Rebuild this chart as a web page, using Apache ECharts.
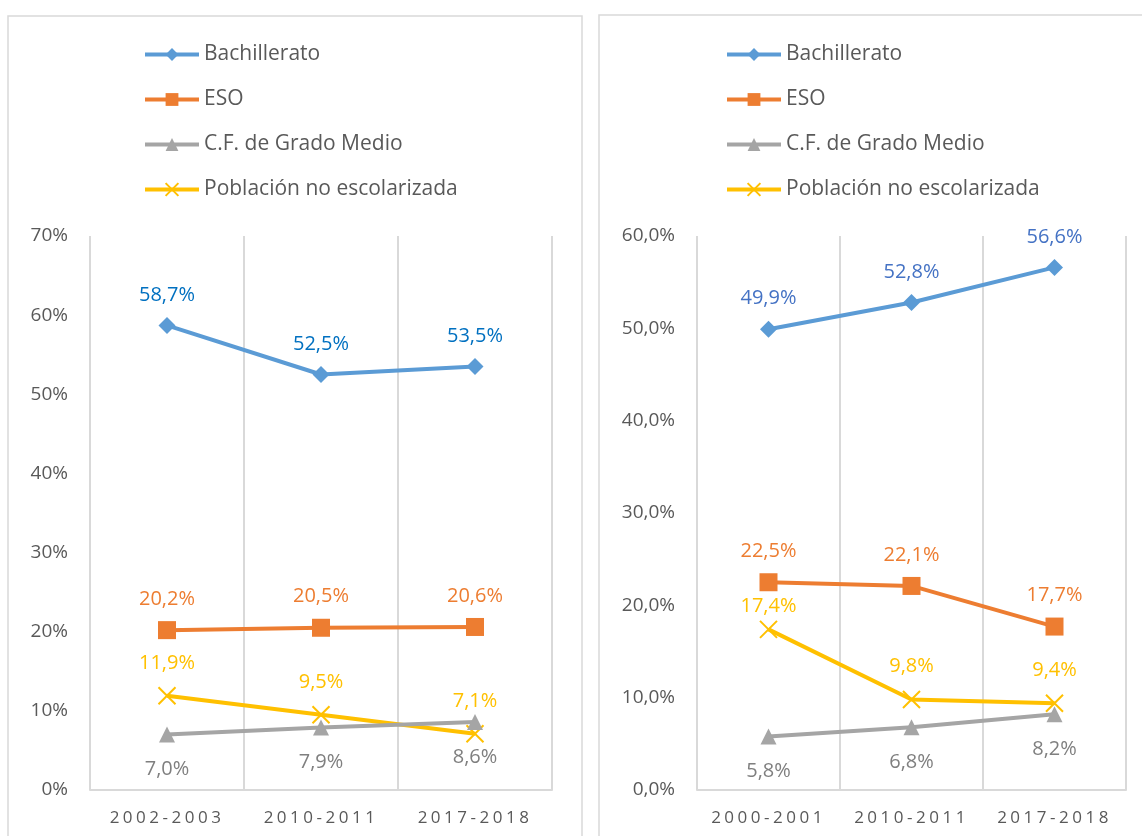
<!DOCTYPE html>
<html>
<head>
<meta charset="utf-8">
<script src="https://cdn.jsdelivr.net/npm/echarts@6/dist/echarts.min.js"></script>
<style>
html,body{margin:0;padding:0;background:#fff;}
#chart{width:1142px;height:836px;}
</style>
</head>
<body>
<div id="chart"></div>
<script>
// ---- Data ----
const seriesNames = ['Bachillerato', 'ESO', 'C.F. de Grado Medio', 'Población no escolarizada'];

const leftCategories = ['2002-2003', '2010-2011', '2017-2018'];
const leftBachillerato = [58.7, 52.5, 53.5];
const leftESO = [20.2, 20.5, 20.6];
const leftCFGM = [7.0, 7.9, 8.6];
const leftNoEscolarizada = [11.9, 9.5, 7.1];
const leftYTicks = { min: 0, max: 70, interval: 10 };

const rightCategories = ['2000-2001', '2010-2011', '2017-2018'];
const rightBachillerato = [49.9, 52.8, 56.6];
const rightESO = [22.5, 22.1, 17.7];
const rightCFGM = [5.8, 6.8, 8.2];
const rightNoEscolarizada = [17.4, 9.8, 9.4];
const rightYTicks = { min: 0, max: 60, interval: 10 };

// Letter-spaced category labels only (as in the reference)
(function () {
  const proto = CanvasRenderingContext2D.prototype;
  const origFill = proto.fillText;
  proto.fillText = function (t) {
    if ('letterSpacing' in this) {
      this.letterSpacing = (typeof t === 'string' && /^\d{4}-\d{4}$/.test(t)) ? '3.5px' : '0px';
    }
    const r = origFill.apply(this, arguments);
    if ('letterSpacing' in this) this.letterSpacing = '0px';
    return r;
  };
})();

// ---- Styles ----
const FONT = 'Open Sans';
const lineColors = ['#5B9BD5', '#ED7D31', '#A5A5A5', '#FFC000'];
const symbols = ['diamond', 'rect', 'triangle', 'path://M0,0 L10,10 M10,0 L0,10'];
const symbolSizes = [17, 18, 16, 17];
const labelPos = ['top', 'top', 'bottom', 'top'];
const labelDist = [12, 12, 17, 12];
// individual label placement tweaks: [chartIndex, seriesIndex, pointIndex, distance]
const labelTweaks = [[1, 3, 0, 2]];

function fmt(v, dec) {
  return v.toFixed(dec).replace('.', ',') + '%';
}

function makeSeries(idx, data, labelColors) {
  return data.map((d, i) => ({
    name: seriesNames[i],
    type: 'line',
    xAxisIndex: idx,
    yAxisIndex: idx,
    data: d.map((v, j) => {
      const tw = labelTweaks.find(t => t[0] === idx && t[1] === i && t[2] === j);
      return tw ? { value: v, label: { distance: tw[3] } } : v;
    }),
    symbol: symbols[i],
    symbolSize: symbolSizes[i],
    symbolKeepAspect: true,
    lineStyle: { color: lineColors[i], width: 4 },
    itemStyle: i === 3
      ? { color: 'none', borderColor: lineColors[i], borderWidth: 2 }
      : { color: lineColors[i] },
    label: {
      show: true,
      position: labelPos[i],
      distance: labelDist[i],
      color: labelColors[i],
      fontFamily: FONT,
      fontSize: 20,
      formatter: p => fmt(p.value, 1)
    },
    emphasis: { disabled: true },
    animation: false,
    z: 10 - i
  }));
}

const chart = echarts.init(document.getElementById('chart'), null, { renderer: 'canvas' });

function xAxis(idx, cats) {
  return {
    type: 'category',
    gridIndex: idx,
    data: cats,
    boundaryGap: true,
    axisLine: { lineStyle: { color: '#D9D9D9', width: 2 } },
    axisTick: { show: false },
    splitLine: { show: true, lineStyle: { color: '#D9D9D9', width: 2 } },
    axisLabel: { color: '#595959', fontFamily: FONT, fontSize: 17, margin: 20 }
  };
}
function yAxis(idx, t, dec) {
  return {
    type: 'value',
    gridIndex: idx,
    min: t.min, max: t.max, interval: t.interval,
    axisLine: { show: false },
    axisTick: { show: false },
    splitLine: { show: false },
    axisLabel: { color: '#595959', fontFamily: FONT, fontSize: 19, margin: 22,
      formatter: v => fmt(v, dec) }
  };
}

function legend(left) {
  return {
    left: left, top: 44, padding: 0, orient: 'vertical',
    itemWidth: 54, itemHeight: 16, itemGap: 24,
    data: seriesNames,
    lineStyle: { width: 4 },
    textStyle: { color: '#595959', fontFamily: FONT, fontSize: 21 },
    selectedMode: false
  };
}

const option = {
  backgroundColor: '#fff',
  animation: false,
  color: lineColors,
  graphic: [
    { type: 'rect', shape: { x: 8, y: 16, width: 574, height: 840 },
      style: { fill: 'none', stroke: '#D9D9D9', lineWidth: 1.5 }, silent: true },
    { type: 'rect', shape: { x: 599, y: 15, width: 560, height: 840 },
      style: { fill: 'none', stroke: '#D9D9D9', lineWidth: 1.5 }, silent: true }
  ],
  legend: [legend(143), legend(725)],
  grid: [
    { left: 90, right: 1142 - 552, top: 236, bottom: 836 - 790 },
    { left: 697, right: 1142 - 1126, top: 236, bottom: 836 - 790 }
  ],
  xAxis: [xAxis(0, leftCategories), xAxis(1, rightCategories)],
  yAxis: [yAxis(0, leftYTicks, 0), yAxis(1, rightYTicks, 1)],
  series: [
    ...makeSeries(0, [leftBachillerato, leftESO, leftCFGM, leftNoEscolarizada],
      ['#0070C0', '#ED7D31', '#7F7F7F', '#FFC000']),
    ...makeSeries(1, [rightBachillerato, rightESO, rightCFGM, rightNoEscolarizada],
      ['#4472C4', '#ED7D31', '#7F7F7F', '#FFC000'])
  ]
};
chart.setOption(option);
</script>
</body>
</html>
